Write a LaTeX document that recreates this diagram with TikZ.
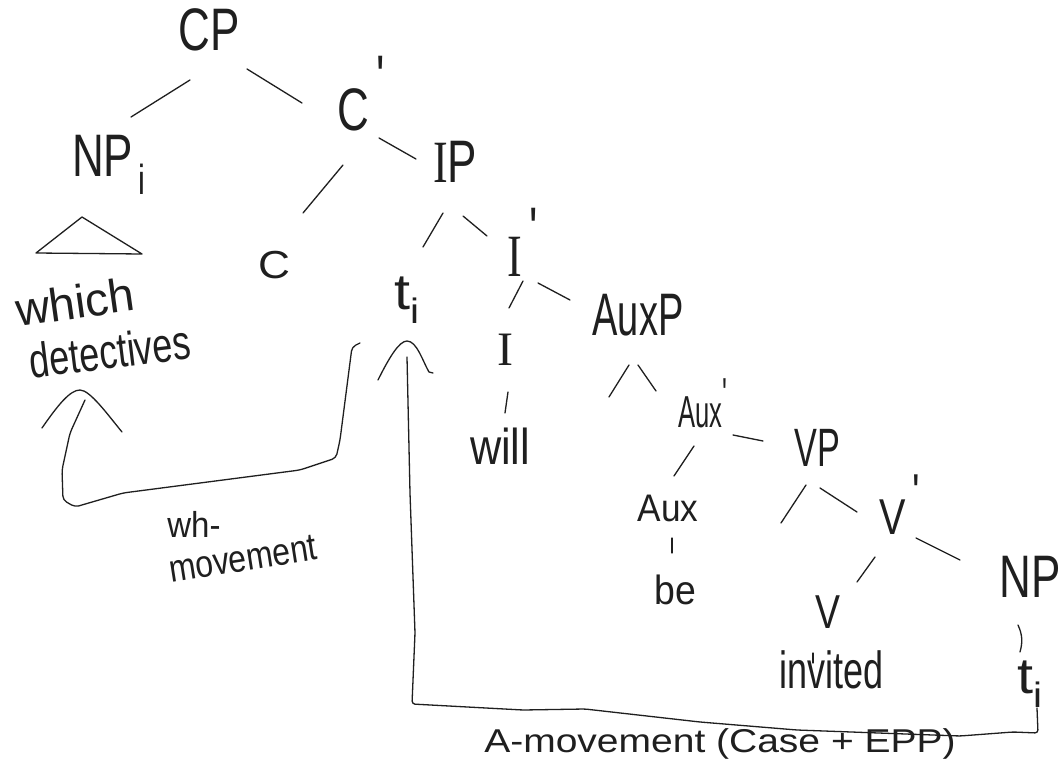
\documentclass[tikz,border=0pt]{standalone}
\usepackage{fontspec}
\setmainfont{Liberation Sans}
\newfontfamily\serifI{Liberation Serif}
\usetikzlibrary{calc}
% hand-lettered label: #1 x-scale, #2 y-scale, #3 font size, #4 text
\newcommand\hw[4]{\scalebox{#1}[#2]{\fontsize{#3}{#3}\selectfont #4}}
\newcommand\Ihd{{\serifI I}}
\newcommand\pr{\textquotesingle}
\tikzset{
  ink/.style={line width=1.3pt, draw=black!88, line cap=round, line join=round},
  lab/.style={inner sep=0pt, text=black!88},
}
\begin{document}
\begin{tikzpicture}[x=1pt,y=-1pt]
\clip (0,0) rectangle (1061,768);
\fill[white] (0,0) rectangle (1061,768);

% ---------- tree labels ----------
\node[lab] (CP)     at (209,30)  {\hw{1.1}{1.5}{40}{CP}};
\node[lab] (NPi)    at (109,165) {\hw{1.1}{1.5}{40}{NP\textsubscript{\,i}}};
\node[lab] (Cbar)   at (361,94)  {\hw{1.1}{1.5}{40}{C\,\raisebox{.55em}{\pr}}};
\node[lab] (C)      at (274,265) {\hw{1.3}{1.15}{34}{C}};
\node[lab] (IP)     at (455,162) {\hw{1.1}{1.5}{40}{\Ihd P}};
\node[lab] (ti)     at (407,300) {\hw{1.6}{1.4}{36}{t\textsubscript{i}}};
\node[lab] (Ibar)   at (523,242) {\hw{1.1}{1.5}{40}{\Ihd\,\raisebox{.45em}{\pr}}};
\node[lab] (I)      at (505,350) {\hw{1.2}{1.2}{40}{\Ihd}};
\node[lab] (will)   at (500,446) {\hw{1.2}{1.4}{36}{will}};
\node[lab] (AuxP)   at (638,315) {\hw{0.95}{1.5}{40}{AuxP}};
\node[lab] (Auxbar) at (703,403) {\hw{0.8}{1.4}{32}{Aux\raisebox{.4em}{\pr}}};
\node[lab] (Aux)    at (668,508) {\hw{1.1}{1.2}{32}{Aux}};
\node[lab] (be)     at (675,590) {\hw{1.1}{1.2}{34}{be}};
\node[lab] (VP)     at (817,448) {\hw{0.95}{1.5}{36}{VP}};
\node[lab] (Vbar)   at (900,505) {\hw{1.1}{1.4}{36}{V\,\raisebox{.5em}{\pr}}};
\node[lab] (V)      at (828,612) {\hw{1.1}{1.4}{34}{V}};
\node[lab] (invited) at (832,670) {\hw{1}{1.45}{36}{invited}};
\node[lab] (NP)     at (1030,577) {\hw{1.1}{1.5}{40}{NP}};
\node[lab] (ti2)    at (1030,684) {\hw{1.6}{1.4}{36}{t\textsubscript{i}}};

\node[lab, rotate=8] (which) at (75,302)  {\hw{1.3}{1.3}{36}{which}};
\node[lab, rotate=7] (det)   at (110,351) {\hw{1}{1.35}{36}{detectives}};

% movement labels
\node[lab] (whlab) at (194,524) {\hw{1.1}{1.2}{30}{wh-}};
\node[lab, rotate=9] (movlab) at (243,559) {\hw{1}{1.2}{32}{movement}};
\node[lab] (Alab) at (720,744) {\hw{1.3}{1.1}{30}{A-movement (Case + EPP)}};

% free ends of the empty specifier branches
\coordinate (AuxPspec) at ($(AuxP)+(-29,82)$);
\coordinate (VPspec)   at ($(VP)+(-36,75)$);

% ---------- branches ----------
\draw[ink] ($(CP)+(-19,50)$)   -- ($(NPi)+(22,-48)$);
\draw[ink] ($(CP)+(38,39)$)    -- ($(Cbar)+(-59,9)$);
\draw[ink] ($(Cbar)+(-18,71)$) -- ($(C)+(29,-52)$);
\draw[ink] ($(Cbar)+(18,44)$)  -- ($(IP)+(-39,-3)$);
\draw[ink] ($(IP)+(-12,51)$)   -- ($(ti)+(16,-53)$);
\draw[ink] ($(IP)+(8,54)$)     -- ($(Ibar)+(-36,-6)$);
\draw[ink] ($(Ibar)+(0,39)$)   -- ($(I)+(4,-42)$);
\draw[ink] ($(Ibar)+(15,41)$)  -- ($(AuxP)+(-68,-15)$);
\draw[ink] ($(I)+(3,42)$)      -- ($(will)+(5,-33)$);
\draw[ink] ($(AuxP)+(-9,50)$)  -- (AuxPspec);
\draw[ink] ($(AuxP)+(0,50)$)   -- ($(Auxbar)+(-47,-12)$);
\draw[ink] ($(Auxbar)+(-9,43)$) -- ($(Aux)+(6,-32)$);
\draw[ink] ($(Auxbar)+(30,32)$) -- ($(VP)+(-54,-7)$);
\draw[ink] ($(Aux)+(4,30)$)    -- ($(be)+(-3,-37)$);
\draw[ink] ($(VP)+(-11,37)$)   -- (VPspec);
\draw[ink] ($(VP)+(3,40)$)     -- ($(Vbar)+(-43,7)$);
\draw[ink] ($(Vbar)+(-25,52)$) -- ($(V)+(29,-30)$);
\draw[ink] ($(Vbar)+(16,33)$)  -- ($(NP)+(-70,-17)$);
\draw[ink] ($(V)+(-15,41)$)    -- ($(invited)+(-19,-7)$);
\draw[ink] ($(NP)+(-12,48)$) to[bend left=20] ($(ti2)+(-10,-32)$);

% triangle over the wh-phrase
\draw[ink] ($(NPi)+(-27,52)$) -- ($(NPi)+(-73,88)$) -- ($(NPi)+(33,89)$) -- cycle;

% ---------- wh-movement ----------
\draw[ink, rounded corners=4pt] ($(ti)+(-47,43)$) -- (352,347) -- (340,440) -- (336,458)
  -- (300,470) -- (123,493) -- (75,507) -- (63,500) -- (62,470) -- (70,433)
  -- ($(det)+(-25,49)$);
\draw[ink] ($(det)+(-68,77)$) .. controls ($(det)+(-52,54)$) and ($(det)+(-40,39)$) .. ($(det)+(-30,39)$)
  .. controls ($(det)+(-20,39)$) and ($(det)+(-2,64)$) .. ($(det)+(12,81)$);

% ---------- A-movement ----------
\draw[ink, rounded corners=3pt] ($(ti2)+(7,24)$) -- (1038,733) -- (1013,732) -- (960,736)
  -- (797,730) -- (700,722) -- (585,709) -- (523,710) -- (412,704) -- (415,633)
  -- (410,493) -- ($(ti)+(0,57)$);
\draw[ink] ($(ti)+(-29,80)$) .. controls ($(ti)+(-18,58)$) and ($(ti)+(-8,41)$) .. ($(ti)+(0,41)$)
  .. controls ($(ti)+(10,41)$) and ($(ti)+(16,62)$) .. ($(ti)+(22,72)$) -- ($(ti)+(26,73)$);
\end{tikzpicture}
\end{document}
